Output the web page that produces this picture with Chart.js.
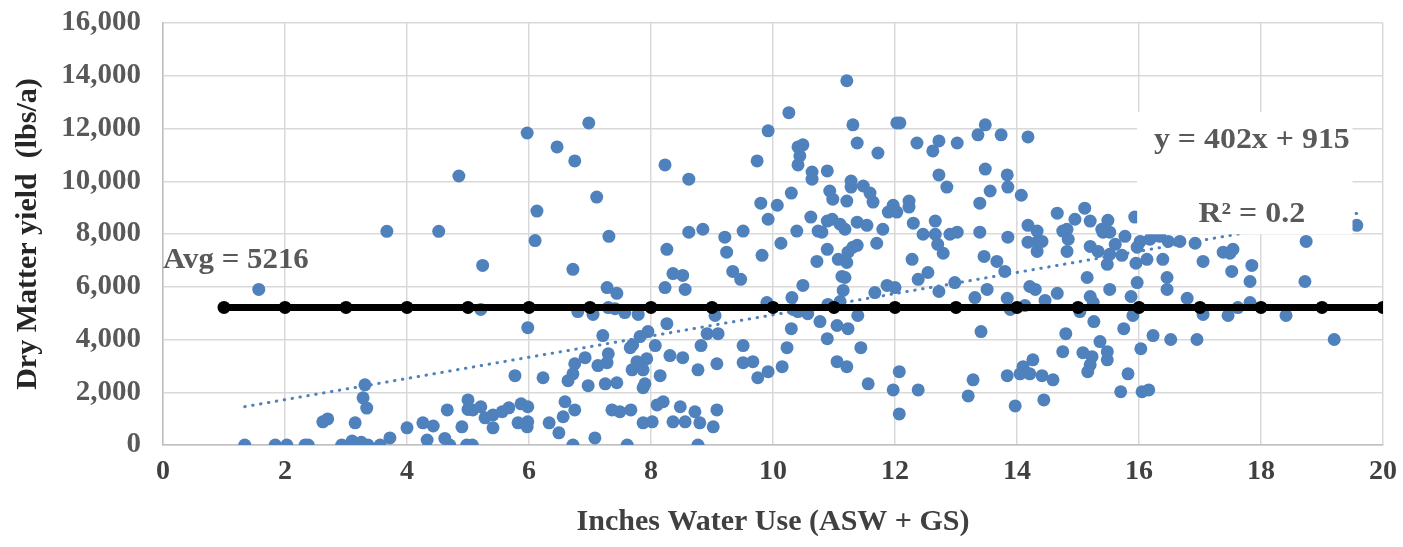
<!DOCTYPE html>
<html>
<head>
<meta charset="utf-8">
<script src="https://cdn.jsdelivr.net/npm/chart.js@4"></script>
<style>
  body { margin: 0; background: #fff; }
  #wrap { width: 1403px; height: 547px; position: relative; }
</style>
</head>
<body>
<div id="wrap"><canvas id="chart"></canvas></div>
<script>
// water use (inches) and dry matter yield (lbs/a)
const waterUse = [
  4.85, 3.67, 4.52, 1.57, 1.34, 1.84, 2.03, 2.33, 2.38, 2.93, 3.10, 3.18, 3.36, 3.56,
  4.33, 4.62, 4.70, 4.98, 3.10, 3.25, 3.31, 3.28, 3.34, 2.62, 2.70, 3.15, 3.72, 4.00,
  4.26, 4.43, 4.66, 4.90, 5.00, 5.00,
  5.97, 6.46, 6.75, 6.98, 7.11, 6.13, 8.23, 8.62, 9.74, 9.92, 9.80, 9.92, 8.62, 8.85,
  9.21, 9.51, 6.10, 7.31,
  5.24, 6.72, 8.26, 9.24, 9.82, 8.36, 8.52, 8.23, 8.56, 9.34, 9.47, 7.28, 7.44, 5.21,
  6.80, 7.05, 7.30, 7.41, 7.57, 7.79, 9.05, 9.90, 5.98, 8.26, 7.21, 7.95, 7.82, 8.92,
  9.10, 7.70, 7.66, 8.07, 8.82, 9.51, 7.30, 7.28, 6.92, 6.75, 7.13, 7.77, 7.93, 7.69,
  7.87, 8.31, 8.52, 9.51, 9.67, 9.08, 8.77, 9.92, 9.75, 5.77, 6.23, 6.72, 6.64, 6.97,
  7.25, 7.44, 7.90, 7.87, 8.15, 5.08, 5.21, 5.28, 5.41, 5.41, 5.56, 5.67, 5.87, 5.98,
  5.82, 5.98, 5.97, 5.07, 6.33, 6.49, 6.56, 6.59, 6.75, 6.72, 7.08, 7.36, 7.49, 7.67,
  7.61, 7.87, 8.02, 8.10, 8.20, 8.36, 8.56, 8.48, 8.72, 8.80, 9.02, 9.08, 8.77,
  11.21, 10.26, 11.31, 12.03, 12.08, 11.38, 11.72, 10.41, 10.49, 10.44, 10.41, 10.64,
  10.64, 10.89, 10.30, 10.07, 10.62, 10.39, 10.74, 10.80, 10.93, 10.98, 10.89, 10.97,
  11.10, 11.18, 11.21, 11.28, 11.28, 11.48, 11.59, 11.64, 11.38, 11.54, 11.80, 11.89,
  11.97, 12.03, 12.23, 12.23, 12.30, 12.36, 12.62, 12.72, 13.02, 12.72, 12.85, 12.66,
  12.46, 12.66, 12.90, 13.02, 13.36, 13.48, 13.74, 14.18, 13.48, 13.84, 13.85, 13.56,
  13.39, 14.07, 13.39, 13.85, 14.18, 14.33, 14.66, 14.75,
  10.13, 10.89, 10.72, 11.07, 11.21, 11.23, 11.38, 11.31, 11.70, 11.13, 11.18, 11.15,
  10.49, 10.31, 10.33, 10.41, 10.57, 10.90, 11.10, 10.77, 11.05, 11.23, 11.39, 10.30,
  10.89, 10.23, 11.44, 10.15, 11.05, 11.21, 11.56, 12.07, 11.97, 12.38, 12.07, 11.67,
  11.87, 12.00, 12.28, 12.38, 12.54, 12.72, 12.98, 12.70, 12.79, 13.46, 13.67, 13.80,
  13.31, 13.51, 13.84, 13.89, 13.41, 13.28, 13.20, 13.84, 13.97, 14.10, 14.26, 14.05,
  14.21, 14.41, 14.59, 14.44, 14.21, 14.30, 14.13, 14.46, 14.66, 14.80, 14.75, 14.18,
  14.33, 14.41, 14.33, 14.82, 14.84,
  15.11, 14.95, 15.20, 15.49, 15.39, 15.52, 15.93, 14.82, 19.57, 18.74, 15.20, 15.33,
  15.48, 15.52, 15.61, 15.72, 15.77, 15.41, 16.02, 15.97, 16.18, 16.34, 16.48, 16.67,
  16.13, 15.95, 16.39, 16.92, 17.05, 17.38, 17.54, 17.49, 17.52, 17.85, 17.82, 18.72,
  15.15, 15.52, 15.97, 16.46, 16.46, 15.20, 15.25, 15.87, 15.03, 16.79, 15.90, 17.05,
  17.46, 17.62, 17.82, 18.41, 15.26, 15.75, 16.23, 16.52, 16.95, 19.20, 15.36, 15.48,
  15.48, 15.08, 15.23, 15.20, 15.16, 16.03, 15.82, 15.70, 16.05, 16.16
];
const dryMatter = [
  10200, 8100, 8100, 5900, 0, 0, 0, 0, 0, 0, 0, 0, 0, 0,
  190, 250, 0, 0, 150, 100, 2280, 1790, 1400, 880, 990, 840, 270, 650,
  840, 720, 1330, 690, 1710, 1350,
  11830, 11300, 10770, 12210, 9400, 8870, 10620, 10080, 10770, 11910, 9170, 8560, 8070, 8180,
  7880, 8110, 7750, 7910,
  6810, 6660, 7420, 7310, 7190, 6500, 6430, 5970, 5900, 6580, 6280, 5970, 5750, 5140,
  5060, 4950, 5210, 5170, 5020, 4950, 4910, 5400, 4450, 4600, 4150, 4300, 4110, 4220,
  4220, 3800, 3690, 3770, 3770, 3770, 3460, 3120, 3310, 3080, 3010, 3160, 3270, 2850,
  2850, 3390, 3310, 3120, 3160, 3080, 2850, 2780, 2550, 2630, 2550, 2700, 2440, 2250,
  2320, 2360, 2320, 2170, 2630, 1330, 1450, 1030, 1140, 650, 1260, 1410, 1560, 1450,
  840, 880, 690, 0, 840, 460, 1070, 1640, 1330, 0, 270, 1330, 1260, 1330,
  0, 840, 880, 1520, 1640, 880, 880, 1450, 1260, 840, 690, 1330, 0,
  13810, 12600, 12140, 12210, 12210, 11450, 11070, 11300, 11380, 10960, 10620, 10350,
  10080, 10390, 9550, 9090, 8640, 8110, 8110, 8070, 9630, 9320, 8490, 8560,
  8370, 8180, 9250, 10010, 9780, 9820, 9550, 9210, 8450, 8330, 8180, 8830,
  9090, 8830, 9250, 9020, 8410, 11450, 11150, 11530, 11450, 10240, 9780, 8490,
  7990, 7990, 7990, 8070, 11760, 12140, 11760, 11680, 10460, 10240, 9780, 9630,
  9170, 9470, 8070, 7880, 8330, 8110, 8790, 8110,
  7650, 7420, 6960, 7040, 6920, 7310, 7570, 7500, 7650, 6390, 6350, 5860,
  6050, 5590, 5140, 5060, 4980, 5330, 5440, 4680, 4530, 4410, 4910, 4410,
  4030, 3690, 3690, 2970, 3160, 2970, 2320, 2780, 2090, 2090, 1180, 5780,
  6050, 5970, 7040, 6280, 6540, 5820, 6160, 7610, 7270, 7150, 6960, 6580,
  5590, 5900, 5560, 5140, 4300, 2470, 1860, 2630, 1480, 2970, 3230, 2700,
  2700, 2630, 2470, 1710, 6010, 5900, 5290, 5480, 5750, 4220, 3540, 7690,
  7690, 7720, 7340, 7340, 7800,
  8980, 8560, 8490, 8520, 8180, 8070, 8640, 8180, 8330, 7720, 7530, 7340,
  6850, 7230, 7610, 7190, 7910, 8070, 7720, 7500, 7800, 7910, 7720, 7720,
  7040, 6890, 7040, 7650, 6960, 7310, 7420, 7270, 6580, 6810, 6200, 6200,
  6350, 5900, 6160, 6350, 5900, 5630, 5400, 5630, 5060, 5560, 4910, 4950,
  4910, 5210, 5400, 4910, 4680, 4410, 4150, 4000, 4000, 4000, 3920, 3540,
  3230, 3500, 3350, 3040, 2780, 3650, 2700, 2020, 2020, 2090
];

// average line, trend line and labels
const avgYield = 5216;
const avgX = [1, 2, 3, 4, 5, 6, 7, 8, 9, 10, 11, 12, 13, 14, 15, 16, 17, 18, 19, 20];
const slope = 402;
const intercept = 915;
const trendX = [1.34, 19.57];
const avgLabel = 'Avg = 5216';
const eqLabel = 'y = 402x + 915';
const r2Label = 'R² = 0.2';

const xTitle = 'Inches Water Use (ASW + GS)';
const yTitle = 'Dry Matter yield  (lbs/a)';

const BLUE = '#4f81bd';
const TXT = '#595959';
const FONT = "'Liberation Serif', 'Times New Roman', serif";

const scatterPts = waterUse.map((x, i) => ({ x: x, y: dryMatter[i] }));
const avgPts = avgX.map(x => ({ x: x, y: avgYield }));
const trendPts = trendX.map(x => ({ x: x, y: slope * x + intercept }));

// draw the text labels (text stretched a bit wide like the original)
function drawWide(ctx, text, x, y, size, stretch, align) {
  ctx.save();
  ctx.font = 'bold ' + size + 'px ' + FONT;
  ctx.fillStyle = TXT;
  ctx.textBaseline = 'alphabetic';
  const w = ctx.measureText(text).width * stretch;
  let left = x;
  if (align === 'center') left = x - w / 2;
  ctx.translate(left, y);
  ctx.scale(stretch, 1);
  ctx.fillText(text, 0, 0);
  ctx.restore();
}

const labelPlugin = {
  id: 'labels',
  afterDatasetsDraw(chart) {
    const ctx = chart.ctx;
    const xs = chart.scales.x, ys = chart.scales.y;
    // avg label
    drawWide(ctx, avgLabel, xs.getPixelForValue(0), ys.getPixelForValue(avgYield) - 39, 30, 1.03, 'left');
    // white box behind equation
    const bx1 = xs.getPixelForValue(15.97), bx2 = xs.getPixelForValue(19.5);
    const by1 = ys.getPixelForValue(12630), by2 = ys.getPixelForValue(7990);
    ctx.save();
    ctx.fillStyle = '#ffffff';
    ctx.fillRect(bx1, by1, bx2 - bx1, by2 - by1);
    ctx.restore();
    const cx = xs.getPixelForValue(17.85);
    drawWide(ctx, eqLabel, cx, ys.getPixelForValue(11270), 29, 1.1, 'center');
    drawWide(ctx, r2Label, cx, ys.getPixelForValue(8450), 29, 1.1, 'center');
  }
};

new Chart(document.getElementById('chart').getContext('2d'), {
  type: 'scatter',
  data: {
    datasets: [
      {
        label: 'Avg',
        type: 'line',
        data: avgPts,
        borderColor: '#000',
        backgroundColor: '#000',
        borderWidth: 7,
        pointRadius: 6.5,
        pointBorderWidth: 0,
        order: 1
      },
      {
        label: 'Trend',
        type: 'line',
        data: trendPts,
        borderColor: BLUE,
        borderWidth: 3,
        borderDash: [0.5, 7.5],
        borderCapStyle: 'round',
        pointRadius: 0,
        order: 2
      },
      {
        label: 'Yield',
        data: scatterPts,
        backgroundColor: BLUE,
        borderColor: BLUE,
        borderWidth: 0,
        pointRadius: 6.5,
        order: 3
      }
    ]
  },
  options: {
    responsive: true,
    maintainAspectRatio: false,
    animation: false,
    layout: { padding: { top: 23, right: 20, left: 0, bottom: 0 } },
    plugins: {
      legend: { display: false },
      tooltip: { enabled: false }
    },
    scales: {
      x: {
        type: 'linear',
        min: 0,
        max: 20,
        afterFit: s => { s.height = 102; s.paddingLeft = 0; s.paddingRight = 0; },
        ticks: {
          stepSize: 2,
          color: '#404040',
          padding: 10,
          font: { family: FONT, size: 28, weight: 'bold' }
        },
        grid: { color: '#d9d9d9', lineWidth: 1.5, drawTicks: false },
        border: { color: '#bfbfbf', width: 1.5 },
        title: {
          display: true,
          text: xTitle,
          color: '#404040',
          padding: { top: 7, bottom: 7 },
          font: { family: FONT, size: 30, weight: 'bold' }
        }
      },
      y: {
        min: 0,
        max: 16000,
        afterFit: s => { s.width = 163; s.paddingTop = 0; s.paddingBottom = 0; },
        ticks: {
          stepSize: 2000,
          color: TXT,
          padding: 22,
          font: { family: FONT, size: 29, weight: 'bold' },
          callback: v => v.toLocaleString('en-US')
        },
        grid: { color: '#d9d9d9', lineWidth: 1.5, drawTicks: false },
        border: { color: '#bfbfbf', width: 1.5 },
        title: {
          display: true,
          text: yTitle,
          color: '#262626',
          padding: { top: 10, bottom: 0 },
          font: { family: FONT, size: 30, weight: 'bold' }
        }
      }
    }
  },
  plugins: [labelPlugin]
});
</script>
</body>
</html>
